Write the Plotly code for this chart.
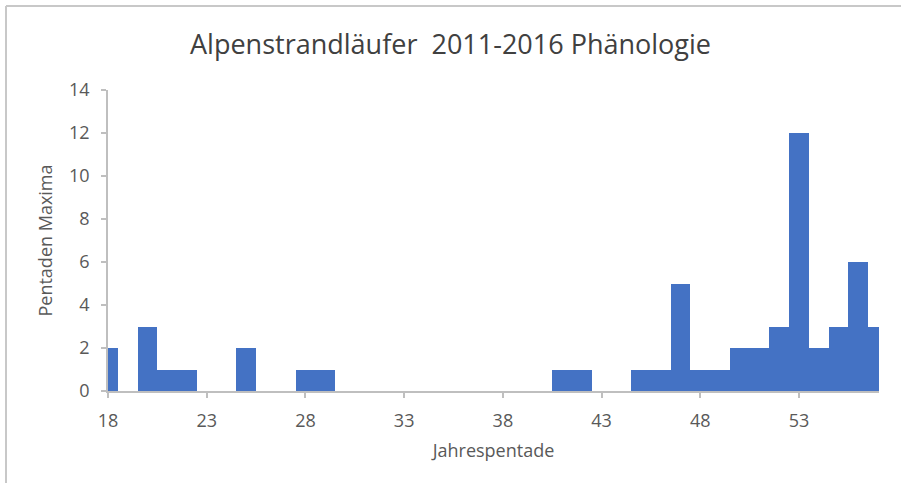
import plotly.graph_objects as go

pentade = [18, 20, 21, 22, 25, 28, 29, 41, 42, 45, 46, 47, 48, 49, 50, 51, 52, 53, 54, 55, 56, 57]
maxima = [2, 3, 1, 1, 2, 1, 1, 1, 1, 1, 1, 5, 1, 1, 2, 2, 3, 12, 2, 3, 6, 3]
x_ticks = [18, 23, 28, 33, 38, 43, 48, 53]
y_ticks = [0, 2, 4, 6, 8, 10, 12, 14]

title_text = "Alpenstrandläufer  2011-2016 Phänologie"
x_title = "Jahrespentade"
y_title = "Pentaden Maxima"

W, H = 901, 483
L, R, T, B = 108, 22, 90, 92
pw, ph = W - L - R, H - T - B

fig = go.Figure()
fig.add_trace(go.Bar(
    x=pentade, y=maxima, width=1.0,
    marker=dict(color="#4472C4", line=dict(width=0)),
    hoverinfo="x+y",
))

axis_col = "#BFBFBF"
text_col = "#595959"
font_family = "Open Sans, Noto Sans, sans-serif"

fig.update_layout(
    width=W, height=H,
    margin=dict(l=L, r=R, t=T, b=B),
    paper_bgcolor="white", plot_bgcolor="white",
    showlegend=False,
    bargap=0,
    title=dict(text=title_text, x=0.5, xanchor="center", y=1 - 45 / H, yanchor="middle",
               font=dict(family=font_family, size=27, color="#404040")),
    font=dict(family=font_family, color=text_col),
    xaxis=dict(range=[18, 57.05], tickmode="array", tickvals=x_ticks,
               showgrid=False, zeroline=False, showline=True, linecolor=axis_col, linewidth=1.5,
               ticks="outside", ticklen=5, tickcolor=axis_col, tickwidth=1.5,
               ticklabelstandoff=8,
               tickfont=dict(size=18, color=text_col),
               title=dict(text=x_title, font=dict(size=18, color=text_col), standoff=13)),
    yaxis=dict(range=[0, 14], tickmode="array", tickvals=y_ticks,
               showgrid=False, zeroline=False, showline=True, linecolor=axis_col, linewidth=1.5,
               ticks="outside", ticklen=5, tickcolor=axis_col, tickwidth=1.5,
               ticklabelstandoff=8,
               tickfont=dict(size=18, color=text_col),
               title=dict(text=y_title, font=dict(size=18, color=text_col), standoff=12)),
)

# chart-area border (left and top only visible)
bx = (6 - L) / pw
by_top = 1 + (T - 6) / ph
fig.add_shape(type="line", xref="paper", yref="paper", x0=bx, x1=bx, y0=by_top, y1=-(B + 5) / ph,
              line=dict(color="#C8C8C8", width=2))
fig.add_shape(type="line", xref="paper", yref="paper", x0=bx, x1=(W - L + 5) / pw, y0=by_top, y1=by_top,
              line=dict(color="#C8C8C8", width=2))

fig.write_html("out.html", config={"displayModeBar": False},
               post_script="document.body.style.margin='0';document.body.style.overflow='hidden';")
